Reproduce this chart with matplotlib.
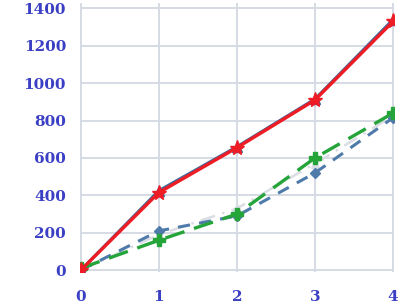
import matplotlib
matplotlib.use("Agg")
import matplotlib.pyplot as plt

x = [0, 1, 2, 3, 4]
red_vals = [0, 415, 655, 910, 1330]
steel_vals = [0, 425, 660, 915, 1340]
blue_vals = [0, 210, 290, 520, 815]
green_vals = [10, 160, 300, 600, 840]
grey_vals = [0, 190, 330, 570, 825]

y_ticks = [0, 200, 400, 600, 800, 1000, 1200, 1400]
tick_color = "#3b3fc4"


def main() -> None:
    fig = plt.figure(figsize=(4.06, 3.06), dpi=100)
    ax = fig.add_axes([0.197, 0.111, 0.773, 0.880])

    ax.plot(x, grey_vals, color="#dadde4", linestyle=(0, (6, 3, 1, 3)), linewidth=1.8,
            marker="^", markersize=6, zorder=2)
    ax.plot(x, blue_vals, color="#4f7bab", linestyle=(0, (4, 3)), linewidth=2.2,
            marker="D", markersize=5, zorder=3)
    ax.plot(x, steel_vals, color="#3f6a9c", linestyle="-", linewidth=2.2,
            marker="^", markersize=7, zorder=3)
    ax.plot(x, green_vals, color="#25a43a", linestyle=(0, (6, 3)), linewidth=2.4,
            marker="P", markersize=8, zorder=4)
    ax.plot(x, red_vals, color="#ee1c25", linestyle="-", linewidth=2.4,
            marker="*", markersize=11, zorder=5)

    ax.set_xlim(-0.01, 4.01)
    ax.set_ylim(-10, 1430)
    ax.set_xticks(x)
    ax.set_yticks(y_ticks)
    ax.grid(True, color="#d6dae3", linewidth=1.4)
    ax.set_axisbelow(True)
    for s in ax.spines.values():
        s.set_visible(False)
    ax.tick_params(length=0, labelcolor=tick_color, labelsize=11)
    ax.tick_params(axis="x", pad=13)
    ax.tick_params(axis="y", pad=10)
    for lab in ax.get_xticklabels() + ax.get_yticklabels():
        lab.set_fontfamily("DejaVu Serif")
        lab.set_fontweight("bold")

    fig.savefig("out.png", dpi=100)


if __name__ == "__main__":
    main()
